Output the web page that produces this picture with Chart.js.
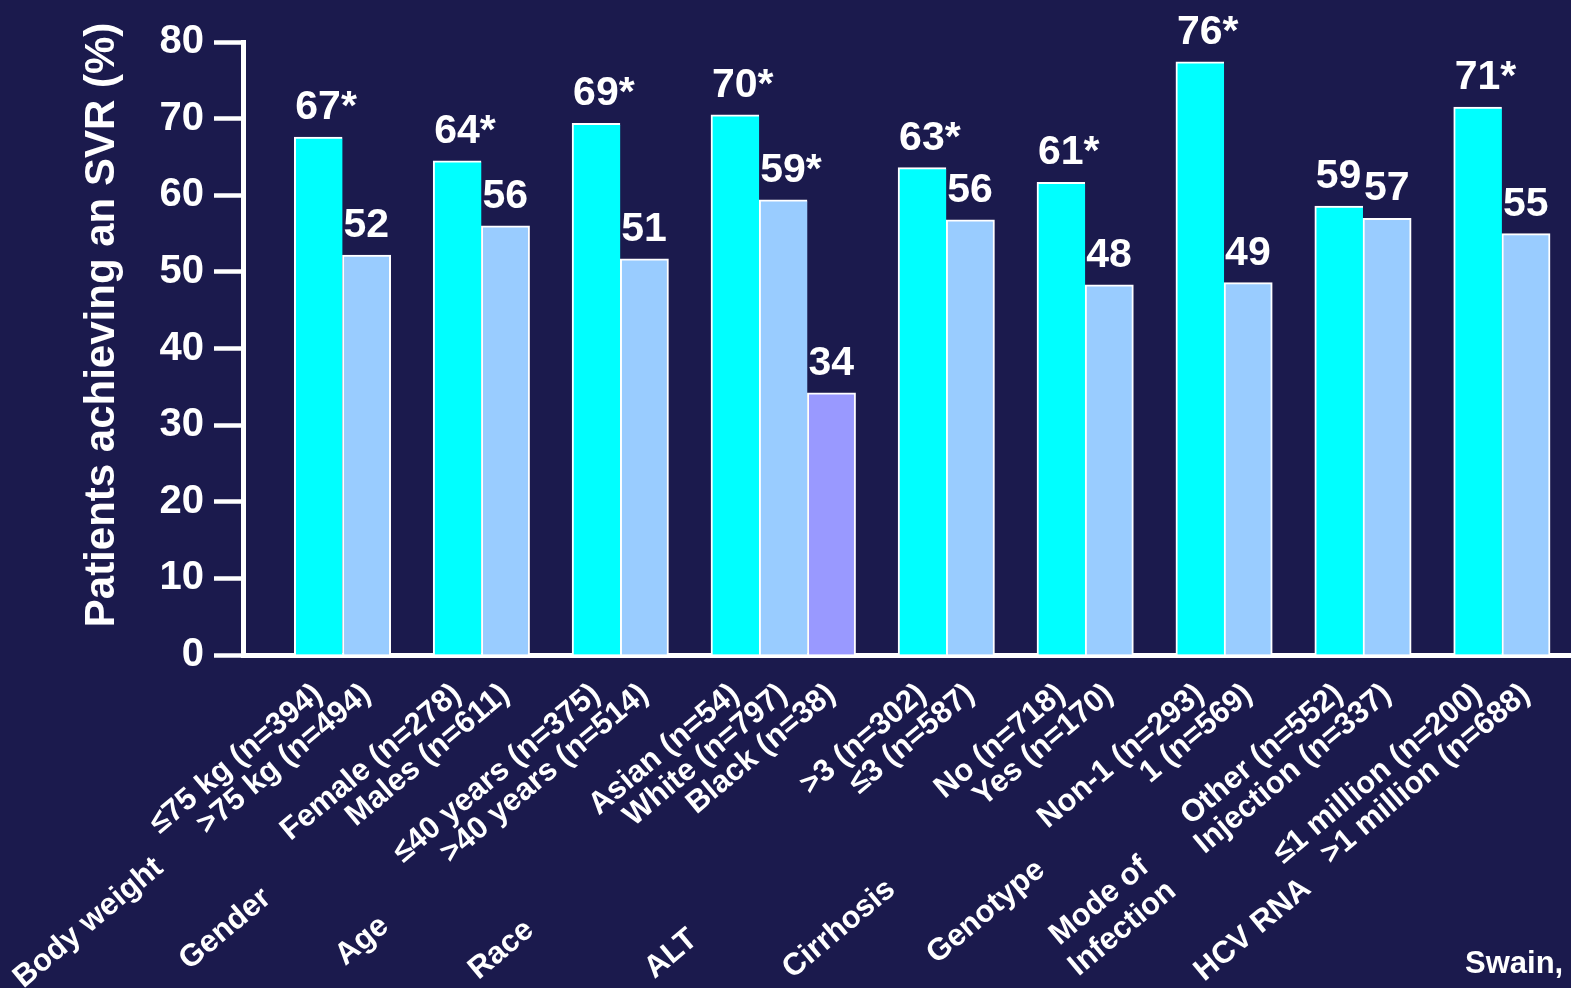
<!DOCTYPE html>
<html>
<head>
<meta charset="utf-8">
<script src="https://cdn.jsdelivr.net/npm/chart.js@4.4.1/dist/chart.umd.min.js"></script>
<style>
  html, body { margin: 0; padding: 0; background: #1b1a4d; overflow: hidden; }
  #wrap { width: 1571px; height: 988px; position: relative; }
</style>
</head>
<body>
<div id="wrap"><canvas id="c"></canvas></div>
<script>
// ---------------- DATA ----------------
const groupNames = ["Body weight", "Gender", "Age", "Race", "ALT", "Cirrhosis", "Genotype", "Mode of\nInfection", "HCV RNA"];
const subgroupLabels = [
  ["≤75 kg (n=394)", ">75 kg (n=494)"],
  ["Female (n=278)", "Males (n=611)"],
  ["≤40 years (n=375)", ">40 years (n=514)"],
  ["Asian (n=54)", "White (n=797)", "Black (n=38)"],
  [">3 (n=302)", "≤3 (n=587)"],
  ["No (n=718)", "Yes (n=170)"],
  ["Non-1 (n=293)", "1 (n=569)"],
  ["Other (n=552)", "Injection (n=337)"],
  ["≤1 million (n=200)", ">1 million (n=688)"]
];
const svrPercent = [
  [67.6, 52.2],
  [64.5, 56.0],
  [69.4, 51.7],
  [70.5, 59.4, 34.2],
  [63.6, 56.8],
  [61.7, 48.3],
  [77.4, 48.6],
  [58.6, 57.0],
  [71.5, 55.0]
];
const valueLabels = [
  ["67*", "52"],
  ["64*", "56"],
  ["69*", "51"],
  ["70*", "59*", "34"],
  ["63*", "56"],
  ["61*", "48"],
  ["76*", "49"],
  ["59", "57"],
  ["71*", "55"]
];
const yTickValues = [0, 10, 20, 30, 40, 50, 60, 70, 80];
const yAxisTitle = "Patients achieving an SVR (%)";
const sourceText = "Swain,";

// ---------------- STYLE / LAYOUT ----------------
const FONT = '"Liberation Sans", Arial, sans-serif';
const roleColors = ["#00ffff", "#99ccff", "#9999ff"];
const GROUP_GAP = 0.882;           // extra space between groups, in bar widths
// group-name placement: offset from group centre (px) and y of text centre
const groupLabelPlacement = [
  { dx: -254, y: 923 }, { dx: -256, y: 929 }, { dx: -258, y: 941 },
  { dx: -282, y: 950 }, { dx: -275, y: 954 }, { dx: -246, y: 929 },
  { dx: -238, y: 912 }, { dx: -252, y: 915 }, { dx: -249, y: 930 }
];

// build flat bar list from the arrays
const bars = [];
const groupSpans = [];
let pos = 0;
svrPercent.forEach((vals, g) => {
  const start = pos;
  vals.forEach((v, i) => {
    bars.push({ x: pos, y: v, role: i, last: i === vals.length - 1,
                sub: subgroupLabels[g][i], lbl: valueLabels[g][i] });
    pos += 1;
  });
  groupSpans.push([start, pos - 1]);
  pos += GROUP_GAP;
});

const annotations = {
  id: 'annotations',
  afterDraw(chart) {
    const ctx = chart.ctx;
    const meta = chart.getDatasetMeta(0);
    const xs = chart.scales.x;
    ctx.save();
    ctx.fillStyle = '#ffffff';

    // value labels above bars
    ctx.font = 'bold 41px ' + FONT;
    ctx.textAlign = 'left';
    ctx.textBaseline = 'alphabetic';
    meta.data.forEach((el, k) => {
      ctx.fillText(bars[k].lbl, el.x - el.width / 2 + 1, el.y - 18);
    });

    // group names (rotated)
    ctx.font = 'bold 31px ' + FONT;
    ctx.textAlign = 'center';
    ctx.textBaseline = 'middle';
    groupNames.forEach((name, g) => {
      const [a, b] = groupSpans[g];
      const cx = (xs.getPixelForValue(a) + xs.getPixelForValue(b)) / 2 + groupLabelPlacement[g].dx;
      const cy = groupLabelPlacement[g].y;
      const lines = name.split('\n');
      ctx.save();
      ctx.translate(cx, cy);
      ctx.rotate(-40 * Math.PI / 180);
      lines.forEach((ln, j) => ctx.fillText(ln, 0, (j - (lines.length - 1) / 2) * 36));
      ctx.restore();
    });

    // y-axis title
    ctx.save();
    ctx.font = 'bold 42px ' + FONT;
    ctx.textAlign = 'center';
    ctx.textBaseline = 'alphabetic';
    ctx.translate(114, 325);
    ctx.rotate(-Math.PI / 2);
    ctx.fillText(yAxisTitle, 0, 0);
    ctx.restore();

    // source
    ctx.font = 'bold 31px ' + FONT;
    ctx.textAlign = 'left';
    ctx.textBaseline = 'alphabetic';
    ctx.fillText(sourceText, 1465, 973);

    ctx.restore();
  }
};

new Chart(document.getElementById('c'), {
  type: 'bar',
  data: {
    datasets: [{
      data: bars.map(b => ({ x: b.x, y: b.y })),
      backgroundColor: c => (c.dataIndex === undefined ? roleColors[0] : roleColors[bars[c.dataIndex].role]),
      borderColor: '#ffffff',
      borderWidth: c => (c.dataIndex === undefined ? 2 :
        { top: 2, left: 2, right: bars[c.dataIndex].last ? 2 : 0, bottom: 0 }),
      borderSkipped: 'start',
      barPercentage: 1,
      categoryPercentage: 1
    }]
  },
  options: {
    responsive: true,
    maintainAspectRatio: false,
    animation: false,
    devicePixelRatio: 1,
    layout: { padding: { top: 42, right: 0, bottom: 0, left: 0 } },
    plugins: { legend: { display: false }, tooltip: { enabled: false } },
    scales: {
      x: {
        type: 'linear',
        min: -1.564,
        max: 25.99,
        bounds: 'data',
        offset: false,
        z: 1,
        grid: { display: false, offset: false },
        border: { display: true, color: '#ffffff', width: 5 },
        afterBuildTicks: s => { s.ticks = bars.map(b => ({ value: b.x })); },
        afterFit: s => { s.height = 333; },
        ticks: {
          autoSkip: false,
          minRotation: 40,
          maxRotation: 40,
          padding: 13,
          color: '#ffffff',
          font: { family: FONT, size: 31, weight: 'bold' },
          callback: (v, i) => (bars[i] ? bars[i].sub : '')
        }
      },
      y: {
        min: 0,
        max: 80,
        z: 1,
        afterBuildTicks: s => { s.ticks = yTickValues.map(v => ({ value: v })); },
        afterFit: s => { s.width = 243; },
        grid: { drawOnChartArea: false, drawTicks: true, tickLength: 29, tickWidth: 4.5, tickColor: '#ffffff', color: '#ffffff' },
        border: { display: true, color: '#ffffff', width: 5 },
        ticks: {
          color: '#ffffff',
          padding: 10,
          font: { family: FONT, size: 40, weight: 'bold' }
        }
      }
    }
  },
  plugins: [annotations]
});
</script>
</body>
</html>
